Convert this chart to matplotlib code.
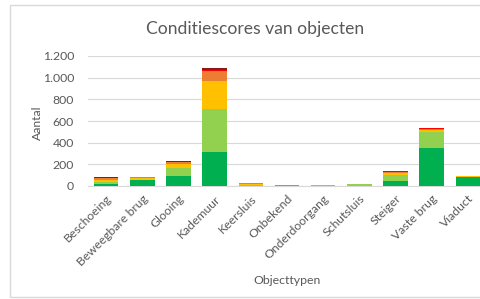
import matplotlib.pyplot as plt
import matplotlib.ticker as mticker
from matplotlib.patches import Rectangle

# categorieën en waarden per conditiescore (1 = goed ... 6 = zeer slecht)
categories = ["Beschoeing", "Beweegbare brug", "Glooing", "Kademuur", "Keersluis",
              "Onbekend", "Onderdoorgang", "Schutsluis", "Steiger", "Vaste brug", "Viaduct"]
score1 = [20, 55, 95, 310, 0, 0, 0, 4, 45, 355, 80]
score2 = [15, 5, 75, 400, 5, 0, 8, 10, 55, 145, 5]
score3 = [25, 10, 35, 260, 10, 0, 0, 0, 20, 15, 10]
score4 = [10, 10, 15, 90, 10, 5, 0, 0, 10, 15, 0]
score5 = [5, 0, 5, 15, 0, 5, 0, 0, 5, 5, 0]
score6 = [5, 0, 5, 10, 0, 0, 0, 0, 0, 0, 0]
series = [score1, score2, score3, score4, score5, score6]
colors = ["#00B050", "#92D050", "#FFC000", "#ED7D31", "#FF0000", "#7F1F1F"]

plt.rcParams['font.family'] = ['Lato', 'DejaVu Sans']
txt = "#595959"

fig = plt.figure(figsize=(4.81, 2.99), dpi=100)
ax = fig.add_axes([88 / 481, 1 - 186 / 299, (486 - 88) / 481, 130 / 299])

# gestapelde staven
x = range(len(categories))
bottom = [0] * len(categories)
for vals, c in zip(series, colors):
    ax.bar(x, vals, bottom=bottom, width=0.68, color=c, zorder=3)
    bottom = [b + v for b, v in zip(bottom, vals)]

ax.set_ylim(0, 1200)
ax.set_xlim(-0.5, len(categories) - 0.5)
ax.yaxis.set_major_locator(mticker.MultipleLocator(200))
ax.yaxis.set_major_formatter(mticker.FuncFormatter(lambda v, p: f"{int(v):,}".replace(",", ".")))
ax.grid(True, axis="y", color="#D9D9D9", linewidth=0.8, zorder=0)
for s in ["top", "right", "left"]:
    ax.spines[s].set_visible(False)
ax.spines["bottom"].set_color("#D9D9D9")
ax.tick_params(length=0, colors=txt, labelsize=8.8)
ax.tick_params(axis="y", pad=10)
ax.tick_params(axis="x", pad=5)
ax.set_xticks(list(x))
ax.set_xticklabels(categories, rotation=45, ha="right", rotation_mode="anchor")

fig.text(255 / 481, 1 - 29 / 299, "Conditiescores van objecten", ha="center", va="center",
         fontsize=12.6, color=txt)
fig.text(37 / 481, 1 - 123 / 299, "Aantal", rotation=90, ha="center", va="center",
         fontsize=8.8, color=txt)
fig.text(287 / 481, 1 - 280 / 299, "Objecttypen", ha="center", va="center",
         fontsize=8.8, color=txt)

# kader rond het diagram
fig.patches.append(Rectangle((10 / 481, 2 / 299), 1.2, 1 - 7 / 299, transform=fig.transFigure,
                             fill=False, edgecolor="#D9D9D9", linewidth=1))

fig.savefig("out.png", dpi=100)
